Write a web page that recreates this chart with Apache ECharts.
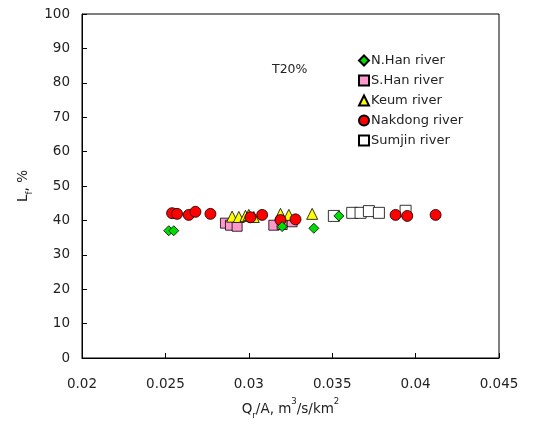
<!DOCTYPE html>
<html>
<head>
<meta charset="utf-8">
<script src="https://cdn.jsdelivr.net/npm/echarts@6/dist/echarts.min.js"></script>
<style>
html,body{margin:0;padding:0;background:#fff;}
#main{width:534px;height:425px;}
</style>
</head>
<body>
<div id="main"></div>
<script>
// values: [Qr/A, Lf]
var nhan = [[0.0252, 37.0], [0.0255, 37.0], [0.0320, 38.2], [0.0339, 37.7], [0.0354, 41.3]];
var shan = [[0.0286, 39.2], [0.0289, 38.6], [0.0293, 38.3], [0.0315, 38.6], [0.0320, 38.8], [0.0326, 39.6]];
var keum = [[0.0290, 41.1], [0.0294, 41.0], [0.0298, 41.3], [0.0300, 41.6], [0.0303, 41.0], [0.0319, 41.9], [0.0324, 41.6], [0.0338, 41.9]];
var nakdong = [[0.0254, 42.1], [0.0257, 41.9], [0.0264, 41.6], [0.0268, 42.5], [0.0277, 41.9], [0.0301, 40.9],
    [0.0308, 41.6], [0.0319, 40.1], [0.0328, 40.3], [0.0388, 41.6], [0.0395, 41.3], [0.0412, 41.6]];
var sumjin = [[0.0351, 41.3], [0.0362, 42.2], [0.0367, 42.2], [0.0372, 42.7], [0.0378, 42.2], [0.0394, 42.8]];
var seriesNames = ['N.Han river', 'S.Han river', 'Keum river', 'Nakdong river', 'Sumjin river'];

var txt = '#222';
var fnt = '"DejaVu Sans", Verdana, sans-serif';

function sc(name, data, symbol, size, color, z) {
    return {
        name: name,
        type: 'scatter',
        data: data,
        symbol: symbol,
        symbolSize: size,
        z: z,
        itemStyle: {color: color, borderColor: '#000', borderWidth: 0.8, opacity: 1}
    };
}

var chart = echarts.init(document.getElementById('main'));
var option = {
    backgroundColor: '#fff',
    animation: false,
    textStyle: {fontFamily: fnt},
    grid: {left: 82, right: 35, top: 14, bottom: 67, show: true, borderColor: '#000', borderWidth: 1, backgroundColor: 'transparent'},
    legend: {
        data: seriesNames,
        orient: 'vertical',
        left: 358,
        top: 54,
        padding: 0,
        itemWidth: 10,
        itemHeight: 10,
        itemGap: 7,
        textStyle: {fontSize: 13, color: txt, fontFamily: fnt, padding: [0, 0, 0, -3]}
    },
    graphic: [{
        type: 'text', left: 272, top: 63,
        style: {text: 'T20%', fontSize: 12.5, fill: txt, fontFamily: fnt}
    }],
    xAxis: {
        type: 'value',
        min: 0.02, max: 0.045, interval: 0.005,
        splitLine: {show: false},
        axisLine: {lineStyle: {color: '#000'}},
        axisTick: {inside: true, length: 5, lineStyle: {color: '#000'}},
        axisLabel: {fontSize: 13.5, color: txt, margin: 19, fontFamily: fnt},
        name: 'Q{sub|r}/A, m{sup|3}/s/km{sup|2}',
        nameLocation: 'middle',
        nameGap: 44,
        nameMoveOverlap: false,
        nameTextStyle: {
            fontSize: 13.5, color: txt, fontFamily: fnt,
            rich: {
                sub: {fontSize: 8.5, color: txt, fontFamily: fnt, verticalAlign: 'bottom', padding: [0, 0, -4, 0]},
                sup: {fontSize: 8.5, color: txt, fontFamily: fnt, verticalAlign: 'top', padding: [-5, 0, 0, 0]}
            }
        }
    },
    yAxis: {
        type: 'value',
        min: 0, max: 100, interval: 10,
        splitLine: {show: false},
        axisLine: {lineStyle: {color: '#000'}},
        axisTick: {inside: true, length: 5, lineStyle: {color: '#000'}},
        axisLabel: {fontSize: 13.5, color: txt, margin: 12, fontFamily: fnt},
        name: 'L{sub|f}, %',
        nameLocation: 'middle',
        nameGap: 52,
        nameMoveOverlap: false,
        nameTextStyle: {
            fontSize: 13.5, color: txt, fontFamily: fnt,
            rich: {sub: {fontSize: 8.5, color: txt, fontFamily: fnt, verticalAlign: 'bottom', padding: [0, 0, -4, 0]}}
        }
    },
    series: [
        sc(seriesNames[0], nhan, 'diamond', [10, 10], '#00dd00', 3),
        sc(seriesNames[1], shan, 'rect', 10, '#ff99cc', 2),
        sc(seriesNames[2], keum, 'triangle', 11, '#ffff00', 2),
        sc(seriesNames[3], nakdong, 'circle', 11, '#ff0000', 2),
        sc(seriesNames[4], sumjin, 'rect', 11, '#ffffff', 1)
    ]
};
chart.setOption(option);
window.onresize = chart.resize;
</script>
</body>
</html>
